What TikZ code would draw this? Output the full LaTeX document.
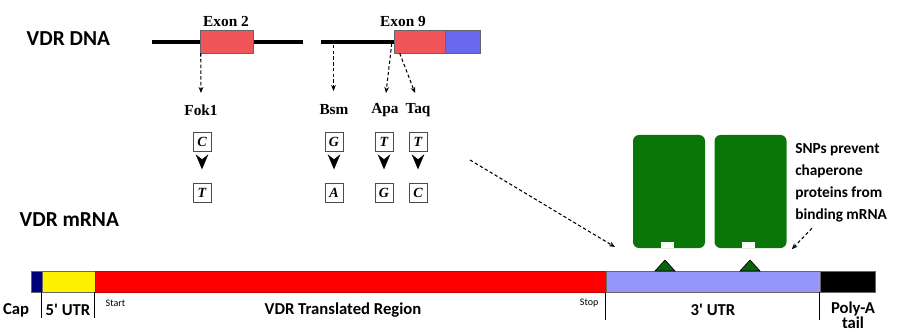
\documentclass[tikz,border=0pt]{standalone}
\usepackage{fontspec}
\setmainfont{Liberation Serif}
\newfontfamily\calibri{Carlito}
\usetikzlibrary{calc,arrows.meta}

\definecolor{exonred}{RGB}{240,85,90}
\definecolor{exonblue}{RGB}{105,105,240}
\definecolor{utrblue}{RGB}{150,150,250}
\definecolor{capblue}{RGB}{0,0,120}
\definecolor{protgreen}{RGB}{10,118,10}

\tikzset{
  exon/.style={draw=black!60,line width=0.4pt,inner sep=0,minimum height=17.25pt},
  seg/.style={draw=black!60,line width=0.4pt,inner sep=0,minimum height=15.75pt},
  base/.style={draw=black!70,line width=0.4pt,inner sep=0,minimum width=13.5pt,minimum height=14.5pt,
    font=\fontsize{10.5}{12}\selectfont\bfseries\itshape},
  snp/.style={dashed,dash pattern=on 2.5pt off 1.8pt,line width=0.8pt,
    -{Stealth[length=4.5pt,width=3.6pt]}},
  chev/.style={-{Stealth[length=11.25pt,width=9.5pt,inset=3.75pt]},
    shorten <=6.5pt,shorten >=10.3pt},
  exlabel/.style={font=\fontsize{11.5}{13}\selectfont\bfseries},
  title/.style={anchor=west,font=\calibri\fontsize{16}{19}\selectfont\bfseries},
  region/.style={font=\calibri\fontsize{12.5}{14}\selectfont\bfseries},
  small/.style={font=\calibri\fontsize{7.5}{9}\selectfont}
}

\begin{document}
\begin{tikzpicture}[x=0.75pt,y=-0.75pt]
\useasboundingbox (0,0) rectangle (905,331);

% DNA
\node[title] (dna) at (22,39) {VDR DNA};
\draw[line width=3pt] (152,42) -- (303,42);
\draw[line width=3pt] (321,42) -- (394,42);
\node[exon,fill=exonred,minimum width=39.75pt] (ex2) at (226.5,41.5) {};
\node[exon,fill=exonred,minimum width=38.25pt] (ex9) at (419.5,41.5) {};
\node[exon,fill=exonblue,minimum width=26.25pt] (ex9b) at (462.5,41.5) {};
\node[exlabel] at (226,22) {Exon 2};
\node[exlabel] at (403,22) {Exon 9};

% polymorphisms
\node[exlabel] (fok) at (201,110) {Fok1};
\node[exlabel] (bsm) at (334,110) {Bsm};
\node[exlabel] (apa) at (385,110) {Apa};
\node[exlabel] (taq) at (418,110) {Taq};
\draw[snp] ($(ex2.south west)+(1,0)$) -- (201,93);
\draw[snp] (333.5,45) -- (333.5,91);
\draw[snp] ($(ex9.west)+(-2,2)$) -- (386,93);
\draw[snp] ($(ex9.south west)+(6,0)$) -- (415,93);

\foreach \x/\a/\b/\n in {202/C/T/fok,334/G/A/bsm,384/T/G/apa,418/T/C/taq} {
  \node[base] (\n-a) at (\x,142) {\a};
  \node[base] (\n-b) at (\x,193) {\b};
  \draw[chev] (\n-a) -- (\n-b);
}

% mRNA
\node[title] (mrna) at (15,220) {VDR mRNA};
\node[seg,fill=capblue,minimum width=8.25pt] (cap) at (36.5,281.5) {};
\node[seg,fill=yellow,minimum width=39.75pt] (utr5) at (68.5,281.5) {};
\node[seg,fill=red,draw=red!80!black,minimum width=383.25pt] (cds) at (350.5,281.5) {};
\node[seg,fill=utrblue,minimum width=160.5pt] (utr3) at (713,281.5) {};
\node[seg,fill=black,minimum width=41.25pt] (polya) at (847.5,281.5) {};

\foreach \n/\l in {utr5/26,cds/26,utr3/28,polya/28}
\draw[line width=0.6pt] (\n.south west) -- ++(0,\l);

\node[region] at (16,310) {Cap};
\node[region] at (68,310) {5' UTR};
\node[small,anchor=west] at (101,303) {Start};
\node[region] at (343,310) {VDR Translated Region};
\node[small,anchor=east] at (603,303) {Stop};
\node[region] at (713,310) {3' UTR};
\node[region,align=center,inner sep=0,font=\calibri\fontsize{12.5}{11}\selectfont\bfseries]
  at (853,315.5) {Poly-A\\tail};

% chaperone proteins
\foreach \x/\t/\n in {669/665/prot1,750.5/750/prot2} {
  \node[fill=protgreen,rounded corners=4.5pt,inner sep=0,minimum width=54pt,
    minimum height=84.75pt] (\n) at (\x,191.5) {};
  \fill[white] ($(\n.south)+(-8.5,0)$) rectangle ++(13,-6);
  \filldraw[fill=protgreen!85!black,draw=black,line width=0.5pt]
    (\t-10,271) -- (\t,260) -- (\t+10,271) -- cycle;
}

\node[anchor=north west,align=left,inner sep=0,
  font=\calibri\fontsize{11.5}{16.5}\selectfont\bfseries] (note) at (795,143)
  {SNPs prevent\\chaperone\\proteins from\\binding mRNA};

\coordinate (from) at (470,160);
\coordinate (to) at (615,247);
\draw[snp] (from) -- (to);
\draw[snp] ($(note.south west)+(17,6)$) -- ($(prot2.south east)+(5,1)$);
\end{tikzpicture}
\end{document}
